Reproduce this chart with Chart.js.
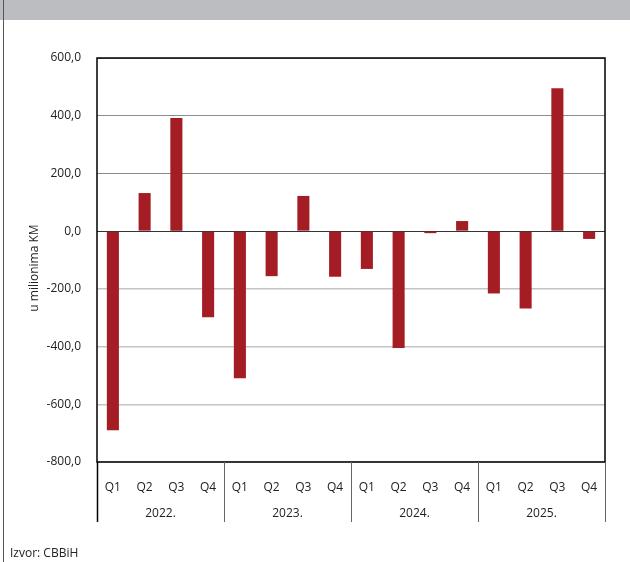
<!DOCTYPE html>
<html>
<head>
<meta charset="utf-8">
<script src="https://cdn.jsdelivr.net/npm/chart.js@4/dist/chart.umd.min.js"></script>
<style>
  html, body { margin: 0; padding: 0; background: #fff; }
  #wrap { position: relative; width: 630px; height: 562px; overflow: hidden; font-family: "Open Sans", sans-serif; }
  #head { position: absolute; left: 0; top: 0; width: 630px; height: 20px; background: #bcbdc0; }
  #edge { position: absolute; left: 3px; top: 0; width: 1px; height: 562px; background: #555; }
  #src { position: absolute; left: 10px; top: 544px; font-size: 12px; color: #222; }
  canvas { position: absolute; left: 0; top: 0; }
</style>
</head>
<body>
<div id="wrap">
  <div id="head"></div>
  <div id="edge"></div>
  <canvas id="chart" width="630" height="562"></canvas>
  <div id="src">Izvor: CBBiH</div>
</div>
<script>
const quarters = ["Q1", "Q2", "Q3", "Q4"]
const years = ["2022.", "2023.", "2024.", "2025."]
const values = [-690, 132, 392, -298, -510, -156, 122, -158, -131, -405, -7, 35, -216, -268, 495, -27]
const yTicks = [600, 400, 200, 0, -200, -400, -600, -800]
const yTitle = "u milionima KM"

const labels = years.flatMap(() => quarters)
const fmt = v => v.toFixed(1).replace(".", ",")

const frame = {
    id: "frame",
    afterDraw(chart) {
        const { ctx, chartArea: a, scales: { x } } = chart
        const n = quarters.length
        const w = (a.right - a.left) / labels.length
        ctx.save()
        // plot border
        ctx.strokeStyle = "#000"
        ctx.lineWidth = 1.5
        ctx.strokeRect(a.left, a.top, a.right - a.left, a.bottom - a.top)
        // group separators and year labels
        for (let i = 0; i <= years.length; i++) {
            const px = Math.round(a.left + i * n * w) + 0.5
            ctx.strokeStyle = (i === 0) ? "#000" : "#666"
            ctx.lineWidth = (i === 0) ? 1.5 : 1
            ctx.beginPath()
            ctx.moveTo(px, a.bottom)
            ctx.lineTo(px, a.bottom + 60)
            ctx.stroke()
        }
        ctx.fillStyle = "#222"
        ctx.font = "12px 'Open Sans'"
        ctx.textAlign = "center"
        ctx.textBaseline = "middle"
        years.forEach((yr, i) => {
            ctx.fillText(yr, a.left + (i * n + n / 2) * w, a.bottom + 52)
        })
        // y axis title
        ctx.translate(35, 268)
        ctx.rotate(-Math.PI / 2)
        ctx.fillText(yTitle, 0, 0)
        ctx.restore()
    }
}

new Chart(document.getElementById("chart"), {
    type: "bar",
    data: {
        labels,
        datasets: [{
            data: values,
            backgroundColor: "#a51d24",
            borderWidth: 0,
            barPercentage: 0.38,
            categoryPercentage: 1
        }]
    },
    options: {
        responsive: false,
        animation: false,
        events: [],
        layout: { padding: { top: 58, right: 25, bottom: 40, left: 0 } },
        plugins: { legend: { display: false }, tooltip: { enabled: false } },
        scales: {
            x: {
                afterFit: s => { s.height = 60 },
                grid: { display: false, drawTicks: false },
                border: { display: false },
                ticks: { color: "#222", font: { family: "Open Sans", size: 12 }, padding: 18, maxRotation: 0, autoSkip: false }
            },
            y: {
                min: -800,
                max: 600,
                afterFit: s => { s.width = 97 },
                afterBuildTicks: s => { s.ticks = yTicks.map(v => ({ value: v })) },
                grid: {
                    drawTicks: false,
                    color: c => c.tick.value === 0 ? "#333" : (c.tick.value > 0 ? "#8c8c8c" : "#c4c4c4"),
                    lineWidth: c => c.tick.value < 0 ? 1.5 : 1
                },
                border: { display: false },
                ticks: { color: "#222", font: { family: "Open Sans", size: 12 }, padding: 16, callback: v => fmt(v) }
            }
        }
    },
    plugins: [frame]
})
</script>
</body>
</html>
